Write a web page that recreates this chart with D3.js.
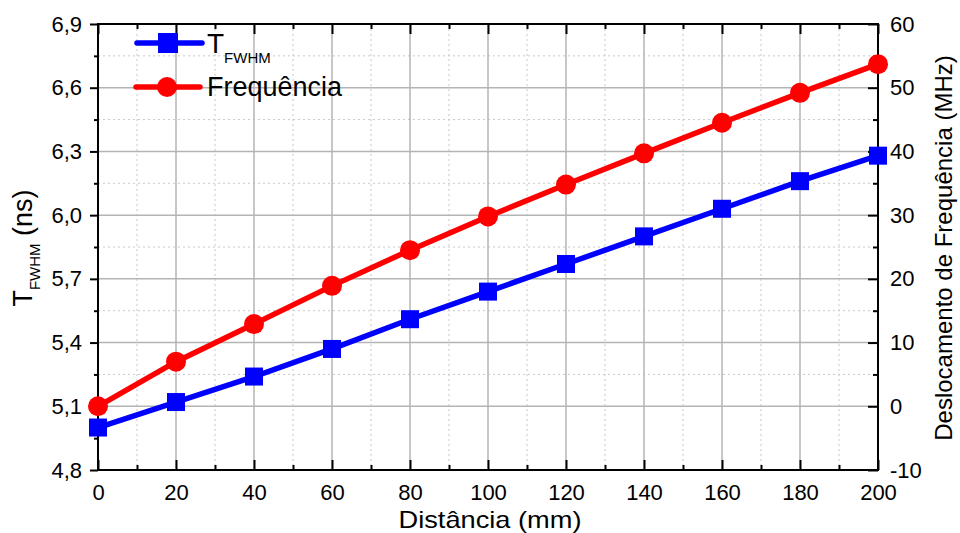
<!DOCTYPE html>
<html><head><meta charset="utf-8">
<script src="https://cdn.jsdelivr.net/npm/d3@7"></script>
<style>body{margin:0;background:#fff}svg{display:block}text{font-family:"Liberation Sans",Arial,sans-serif}</style>
</head><body>
<svg id="c" width="960" height="533"></svg>
<script>
const distancia = [0,20,40,60,80,100,120,140,160,180,200];
const tFWHM = [5.00,5.12,5.24,5.37,5.51,5.64,5.77,5.90,6.03,6.16,6.28];
const frequencia = [0,7.0,12.9,18.9,24.5,29.8,34.8,39.7,44.5,49.2,53.7];
const xTicks = [0,20,40,60,80,100,120,140,160,180,200];
const yLeftTicks = [4.8,5.1,5.4,5.7,6.0,6.3,6.6,6.9];
const yRightTicks = [-10,0,10,20,30,40,50,60];

const svg = d3.select("#c");
const L=98,R=878,T=24,B=470;
const x = d3.scaleLinear().domain([0,200]).range([L,R]);
const yL = d3.scaleLinear().domain([4.8,6.9]).range([B,T]);
const yR = d3.scaleLinear().domain([-10,60]).range([B,T]);
const fmt = d=>d3.format(".1f")(d).replace(".",",");

// grid
const g = svg.append("g");
const xMinor = d3.range(10,200,20);
const yMinor = d3.range(5,60,10);
g.selectAll(".vm").data(xMinor).join("line").attr("x1",d=>x(d)).attr("x2",d=>x(d)).attr("y1",T).attr("y2",B)
 .attr("stroke","#c8c8c8").attr("stroke-dasharray","2,3").attr("stroke-width",1);
g.selectAll(".hm").data(yMinor).join("line").attr("y1",d=>yR(d)).attr("y2",d=>yR(d)).attr("x1",L).attr("x2",R)
 .attr("stroke","#c8c8c8").attr("stroke-dasharray","2,3").attr("stroke-width",1);
g.selectAll(".vM").data(xTicks.slice(1,-1)).join("line").attr("x1",d=>x(d)).attr("x2",d=>x(d)).attr("y1",T).attr("y2",B)
 .attr("stroke","#b4b4b4").attr("stroke-width",1.5);
g.selectAll(".hM").data(yRightTicks.slice(1,-1)).join("line").attr("y1",d=>yR(d)).attr("y2",d=>yR(d)).attr("x1",L).attr("x2",R)
 .attr("stroke","#b4b4b4").attr("stroke-width",1.5);

// axes
function styleAxis(sel){sel.select(".domain").remove();sel.selectAll("line").attr("stroke","#000").attr("stroke-width",2);
  sel.selectAll("text").attr("font-size",22).attr("fill","#000");}
function ticksOnly(s){s.select(".domain").remove();s.selectAll("line").attr("stroke","#000").attr("stroke-width",2);}
// bottom
const ax = svg.append("g").attr("transform",`translate(0,${B})`)
 .call(d3.axisBottom(x).tickValues(xTicks).tickSizeInner(-10).tickSizeOuter(0).tickPadding(14));
styleAxis(ax);
svg.append("g").attr("transform",`translate(0,${B})`).call(d3.axisBottom(x).tickValues(xMinor).tickSize(-5).tickFormat("")).call(ticksOnly);
// top
svg.append("g").attr("transform",`translate(0,${T})`).call(d3.axisTop(x).tickValues(xTicks).tickSize(-10).tickFormat("")).call(ticksOnly);
svg.append("g").attr("transform",`translate(0,${T})`).call(d3.axisTop(x).tickValues(xMinor).tickSize(-5).tickFormat("")).call(ticksOnly);
// left
const al = svg.append("g").attr("transform",`translate(${L},0)`)
 .call(d3.axisLeft(yL).tickValues(yLeftTicks).tickFormat(fmt).tickSize(8).tickPadding(8));
styleAxis(al);
svg.append("g").attr("transform",`translate(${L},0)`).call(d3.axisLeft(yL).tickValues(d3.range(7).map(i=>4.95+0.3*i)).tickSize(4).tickFormat("")).call(ticksOnly);
// right
const ar = svg.append("g").attr("transform",`translate(${R},0)`)
 .call(d3.axisRight(yR).tickValues(yRightTicks).tickFormat(d=>String(d)).tickSizeInner(-10).tickSizeOuter(0).tickPadding(12));
styleAxis(ar);
svg.append("g").attr("transform",`translate(${R},0)`).call(d3.axisRight(yR).tickValues(yMinor).tickSize(-5).tickFormat("")).call(ticksOnly);
// frame
svg.append("rect").attr("x",L).attr("y",T).attr("width",R-L).attr("height",B-T).attr("fill","none").attr("stroke","#000").attr("stroke-width",2);

// series
const lineL = d3.line().x((d,i)=>x(distancia[i])).y(d=>yL(d));
const lineR = d3.line().x((d,i)=>x(distancia[i])).y(d=>yR(d));
svg.append("path").datum(frequencia).attr("d",lineR).attr("fill","none").attr("stroke","#ff0000").attr("stroke-width",5.5);
svg.selectAll(".c").data(frequencia).join("circle").attr("cx",(d,i)=>x(distancia[i])).attr("cy",d=>yR(d)).attr("r",10).attr("fill","#ff0000");
svg.append("path").datum(tFWHM).attr("d",lineL).attr("fill","none").attr("stroke","#0000ff").attr("stroke-width",5.5);
svg.selectAll(".s").data(tFWHM).join("rect").attr("x",(d,i)=>x(distancia[i])-9).attr("y",d=>yL(d)-9).attr("width",18).attr("height",18).attr("fill","#0000ff");

// legend
svg.append("line").attr("x1",137).attr("x2",202).attr("y1",43).attr("y2",43).attr("stroke","#0000ff").attr("stroke-width",5.5).attr("stroke-linecap","round");
svg.append("rect").attr("x",158).attr("y",33).attr("width",20).attr("height",20).attr("fill","#0000ff");
const lt = svg.append("text").attr("x",207).attr("y",53).attr("font-size",28);
lt.append("tspan").text("T");
lt.append("tspan").attr("font-size",15).attr("dy",10).text("FWHM");
svg.append("line").attr("x1",136).attr("x2",200).attr("y1",87).attr("y2",87).attr("stroke","#ff0000").attr("stroke-width",5.5).attr("stroke-linecap","round");
svg.append("circle").attr("cx",167).attr("cy",87).attr("r",10).attr("fill","#ff0000");
svg.append("text").attr("x",207).attr("y",96).attr("font-size",27).text("Frequência");

// axis titles
svg.append("text").attr("x",490).attr("y",528).attr("text-anchor","middle").attr("font-size",24)
 .attr("textLength",183).attr("lengthAdjust","spacingAndGlyphs").text("Distância (mm)");
const ylt = svg.append("text").attr("transform","translate(32,248) rotate(-90)").attr("text-anchor","middle").attr("font-size",27);
ylt.append("tspan").text("T");
ylt.append("tspan").attr("font-size",15).attr("dy",8).text("FWHM");
ylt.append("tspan").attr("dy",-8).text(" (ns)");
svg.append("text").attr("transform","translate(952,248) rotate(-90)").attr("text-anchor","middle").attr("font-size",24).text("Deslocamento de Frequência (MHz)");
</script>
</body></html>
